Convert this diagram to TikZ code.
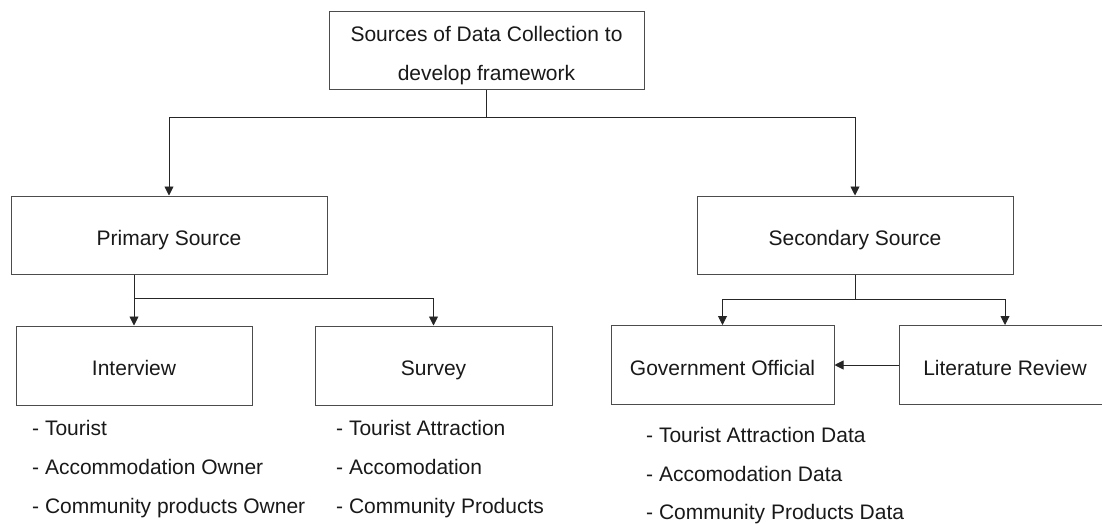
\documentclass[tikz,border=0pt]{standalone}
\usepackage{fontspec}
\setmainfont{Liberation Sans}
\usetikzlibrary{arrows.meta}
\begin{document}
\begin{tikzpicture}[x=1pt,y=-1pt,
  box/.style={draw=black!70, line width=1pt, minimum height=79pt,
    inner sep=0pt, align=center, text=black!90,
    font=\fontsize{21}{39}\selectfont},
  onebox/.style={box, text height=20pt, text depth=0pt},
  link/.style={line width=0.9pt, draw=black!85},
  arr/.style={link, -{Triangle[width=9pt,length=9pt]}},
  item/.style={anchor=base west, inner sep=0pt, text=black!90,
    font=\fontsize{21}{25}\selectfont}
]
\clip (0,0) rectangle (1102,524);
\fill[white] (0,0) rectangle (1102,524);

% boxes
\node[box, minimum width=315pt, minimum height=78pt] (top) at (486.5,51)
  {\rule{0pt}{23.5pt}Sources of Data Collection to\\develop framework};
\node[onebox, minimum width=316pt, minimum height=78pt] (prim) at (169,235) {Primary Source};
\node[onebox, minimum width=316pt, minimum height=78pt] (sec) at (855,235) {Secondary Source};
\node[onebox, minimum width=236pt] (intv) at (134,365.5) {Interview};
\node[onebox, minimum width=237pt] (surv) at (433.5,365.5) {Survey};
\node[onebox, minimum width=223pt] (gov) at (722.5,365) {Government Official};
\node[onebox, minimum width=212pt] (lit) at (1005,365) {Literature Review};

% top level split
\draw[link] (top.south) -- ++(0,27) coordinate (j1);
\draw[arr] (j1) -| (prim.north);
\draw[arr] (j1) -| (sec.north);

% primary sources
\path (intv.north) ++(0,-27) coordinate (j2);
\draw[arr] (intv.north |- prim.south) -- (intv.north);
\draw[arr] (j2) -| (surv.north);

% secondary sources
\draw[link] (sec.south) -- ++(0,25) coordinate (j3);
\draw[arr] (j3) -| (gov.north);
\draw[arr] (j3) -| (lit.north);
\draw[arr] (lit.west) -- (gov.east);

% item lists
\node[item] (i1) at (32,435) {- Tourist};
\node[item] (i2) at (32,474) {- Accommodation Owner};
\node[item] (i3) at (32,513) {- Community products Owner};
\node[item] (s1) at (336,435) {- Tourist Attraction};
\node[item] (s2) at (336,474) {- Accomodation};
\node[item] (s3) at (336,513) {- Community Products};
\node[item] (g1) at (646,442) {- Tourist Attraction Data};
\node[item] (g2) at (646,481) {- Accomodation Data};
\node[item] (g3) at (646,519) {- Community Products Data};
\end{tikzpicture}
\end{document}
